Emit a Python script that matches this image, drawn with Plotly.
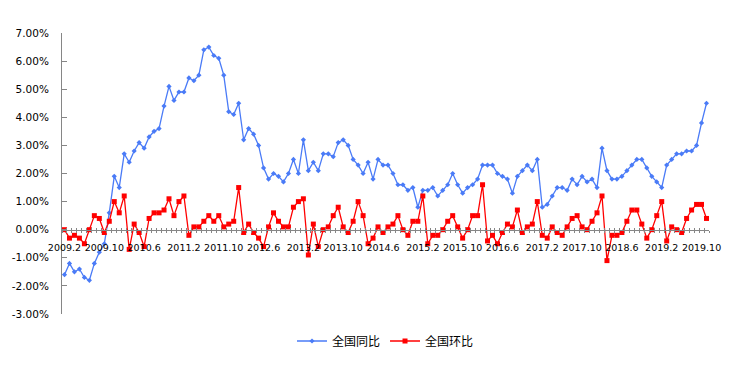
import plotly.graph_objects as go

# Monthly categories 2009.2 .. 2019.11
MONTHS = [f"{y}.{m}" for y in range(2009, 2020) for m in range(1, 13)
          if not (y == 2009 and m < 2) and not (y == 2019 and m > 11)]

# 全国同比 (%)
YOY = [-1.6, -1.2, -1.5, -1.4, -1.7, -1.8, -1.2, -0.8, -0.5, 0.6, 1.9,
       1.5, 2.7, 2.4, 2.8, 3.1, 2.9, 3.3, 3.5, 3.6, 4.4, 5.1, 4.6,
       4.9, 4.9, 5.4, 5.3, 5.5, 6.4, 6.5, 6.2, 6.1, 5.5, 4.2, 4.1,
       4.5, 3.2, 3.6, 3.4, 3.0, 2.2, 1.8, 2.0, 1.9, 1.7, 2.0, 2.5,
       2.0, 3.2, 2.1, 2.4, 2.1, 2.7, 2.7, 2.6, 3.1, 3.2, 3.0, 2.5,
       2.3, 2.0, 2.4, 1.8, 2.5, 2.3, 2.3, 2.0, 1.6, 1.6, 1.4, 1.5,
       0.8, 1.4, 1.4, 1.5, 1.2, 1.4, 1.6, 2.0, 1.6, 1.3, 1.5, 1.6,
       1.8, 2.3, 2.3, 2.3, 2.0, 1.9, 1.8, 1.3, 1.9, 2.1, 2.3, 2.1,
       2.5, 0.8, 0.9, 1.2, 1.5, 1.5, 1.4, 1.8, 1.6, 1.9, 1.7, 1.8,
       1.5, 2.9, 2.1, 1.8, 1.8, 1.9, 2.1, 2.3, 2.5, 2.5, 2.2, 1.9,
       1.7, 1.5, 2.3, 2.5, 2.7, 2.7, 2.8, 2.8, 3.0, 3.8, 4.5]

# 全国环比 (%)
MOM = [0.0, -0.3, -0.2, -0.3, -0.5, 0.0, 0.5, 0.4, -0.1, 0.3, 1.0,
       0.6, 1.2, -0.7, 0.2, -0.1, -0.6, 0.4, 0.6, 0.6, 0.7, 1.1, 0.5,
       1.0, 1.2, -0.2, 0.1, 0.1, 0.3, 0.5, 0.3, 0.5, 0.1, 0.2, 0.3,
       1.5, -0.1, 0.2, -0.1, -0.3, -0.6, 0.1, 0.6, 0.3, 0.1, 0.1, 0.8,
       1.0, 1.1, -0.9, 0.2, -0.6, 0.0, 0.1, 0.5, 0.8, 0.1, -0.1, 0.3,
       1.0, 0.5, -0.5, -0.3, 0.1, -0.1, 0.1, 0.2, 0.5, 0.0, -0.2, 0.3,
       0.3, 1.2, -0.5, -0.2, -0.2, 0.0, 0.3, 0.5, 0.1, -0.3, 0.0, 0.5,
       0.5, 1.6, -0.4, -0.2, -0.5, -0.1, 0.2, 0.1, 0.7, -0.1, 0.1, 0.2,
       1.0, -0.2, -0.3, 0.1, -0.1, -0.2, 0.1, 0.4, 0.5, 0.1, 0.0, 0.3,
       0.6, 1.2, -1.1, -0.2, -0.2, -0.1, 0.3, 0.7, 0.7, 0.2, -0.3, 0.0,
       0.5, 1.0, -0.4, 0.1, 0.0, -0.1, 0.4, 0.7, 0.9, 0.9, 0.4]

TICK_LABELS = ["2009.2", "2009.10", "2010.6", "2011.2", "2011.10", "2012.6",
               "2013.2", "2013.10", "2014.6", "2015.2", "2015.10", "2016.6",
               "2017.2", "2017.10", "2018.6", "2019.2", "2019.10"]
Y_TICKS = [-3, -2, -1, 0, 1, 2, 3, 4, 5, 6, 7]

idx = list(range(len(MONTHS)))
tickvals = [MONTHS.index(t) for t in TICK_LABELS]

BLUE = "#4A7BF7"
RED = "#FF0000"
AXIS = "#868686"

fig = go.Figure()
fig.add_trace(go.Scatter(
    x=idx, y=YOY, name="全国同比", mode="lines+markers",
    line=dict(color=BLUE, width=1.3),
    marker=dict(symbol="diamond", size=4, color=BLUE),
    customdata=MONTHS, hovertemplate="%{customdata}: %{y:.1f}%<extra></extra>"))
fig.add_trace(go.Scatter(
    x=idx, y=MOM, name="全国环比", mode="lines+markers",
    line=dict(color=RED, width=1.3),
    marker=dict(symbol="square", size=5, color=RED),
    customdata=MONTHS, hovertemplate="%{customdata}: %{y:.1f}%<extra></extra>"))
# helper trace so the overlay axis (upper half of crossing ticks) is drawn
fig.add_trace(go.Scatter(x=[None], y=[None], xaxis="x2", showlegend=False,
                         hoverinfo="skip"))

xrange = [-0.5, len(MONTHS) - 0.5]
fig.update_layout(
    width=733, height=369,
    margin=dict(l=62, r=16, t=33, b=55),
    paper_bgcolor="white", plot_bgcolor="white",
    showlegend=True,
    legend=dict(orientation="h", x=0.5, xanchor="center", y=-0.096,
                yanchor="middle", font=dict(family="Noto Sans CJK SC", size=12,
                                            color="#000000"),
                itemwidth=30),
    xaxis=dict(range=xrange, anchor="free", position=0.3,
               showline=True, linecolor=AXIS, linewidth=1,
               showgrid=False, zeroline=False,
               tickmode="array", tickvals=tickvals, ticktext=TICK_LABELS,
               ticks="", ticklabelstandoff=9,
               tickfont=dict(family="DejaVu Sans", size=9.5, color="#000000"),
               minor=dict(tickmode="linear", tick0=-0.5, dtick=1,
                          ticks="outside", ticklen=2, tickcolor=AXIS,
                          showgrid=False)),
    xaxis2=dict(range=xrange, overlaying="x", anchor="free", position=0.3,
                showline=False, showgrid=False, zeroline=False,
                showticklabels=False,
                tickmode="linear", tick0=-0.5, dtick=1,
                ticks="inside", ticklen=2, tickcolor=AXIS),
    yaxis=dict(range=[-3, 7], showline=True, linecolor=AXIS, linewidth=1,
               showgrid=False, zeroline=False,
               tickmode="array", tickvals=Y_TICKS,
               ticktext=[f"{v:.2f}%" for v in Y_TICKS],
               ticks="inside", ticklen=5, tickcolor=AXIS,
               ticklabelstandoff=10,
               tickfont=dict(family="DejaVu Sans", size=10.5, color="#000000")),
)

fig.write_html("out.html",
               config={"displayModeBar": False},
               post_script="document.body.style.margin='0';")
